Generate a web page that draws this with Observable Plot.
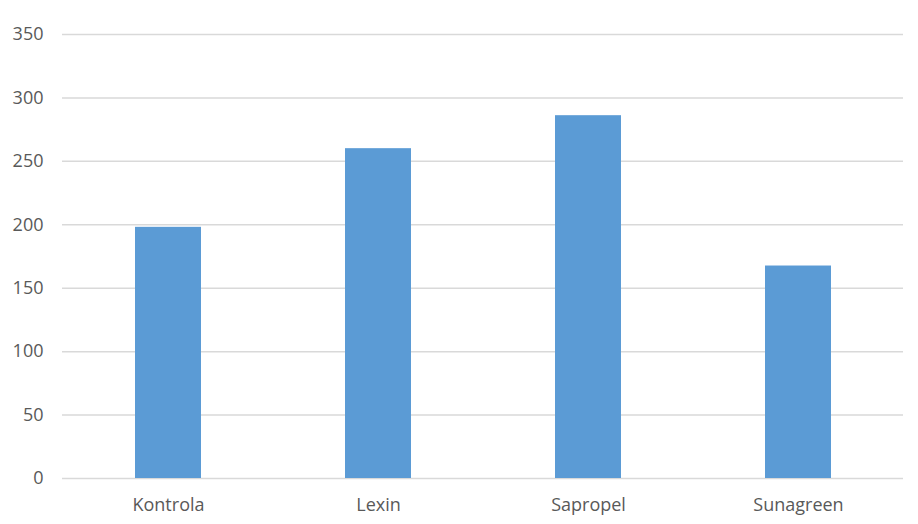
<!DOCTYPE html>
<html>
<head>
<meta charset="utf-8">
<script src="https://cdn.jsdelivr.net/npm/d3@7"></script>
<script src="https://cdn.jsdelivr.net/npm/@observablehq/plot@0.6"></script>
<style>
  html, body { margin: 0; padding: 0; background: #fff; }
  #chart svg { display: block; }
</style>
</head>
<body>
<div id="chart"></div>
<script>
const categories = ["Kontrola", "Lexin", "Sapropel", "Sunagreen"];
const values = [198, 260, 286, 167.5];
const yTicks = [0, 50, 100, 150, 200, 250, 300, 350];

const data = categories.map((c, i) => ({category: c, value: values[i]}));

const chart = Plot.plot({
  width: 918,
  height: 524,
  marginLeft: 62,
  marginRight: 15,
  marginTop: 34,
  marginBottom: 46,
  style: {fontFamily: "'Open Sans', 'Noto Sans', sans-serif", fontSize: "18px", color: "#595959", background: "#fff"},
  x: {domain: categories, paddingInner: 0.686, paddingOuter: 0.343, label: null},
  y: {domain: [0, 350], label: null},
  marks: [
    Plot.gridY(yTicks, {stroke: "#d9d9d9", strokeOpacity: 1, strokeWidth: 1.5}),
    Plot.barY(data, {x: "category", y: "value", fill: "#5b9bd5"}),
    Plot.axisY(yTicks, {tickSize: 0, tickPadding: 19, fill: "#595959", fontSize: 18}),
    Plot.axisX({tickSize: 0, tickPadding: 20, fill: "#595959", fontSize: 18})
  ]
});
document.getElementById("chart").appendChild(chart);
</script>
</body>
</html>
